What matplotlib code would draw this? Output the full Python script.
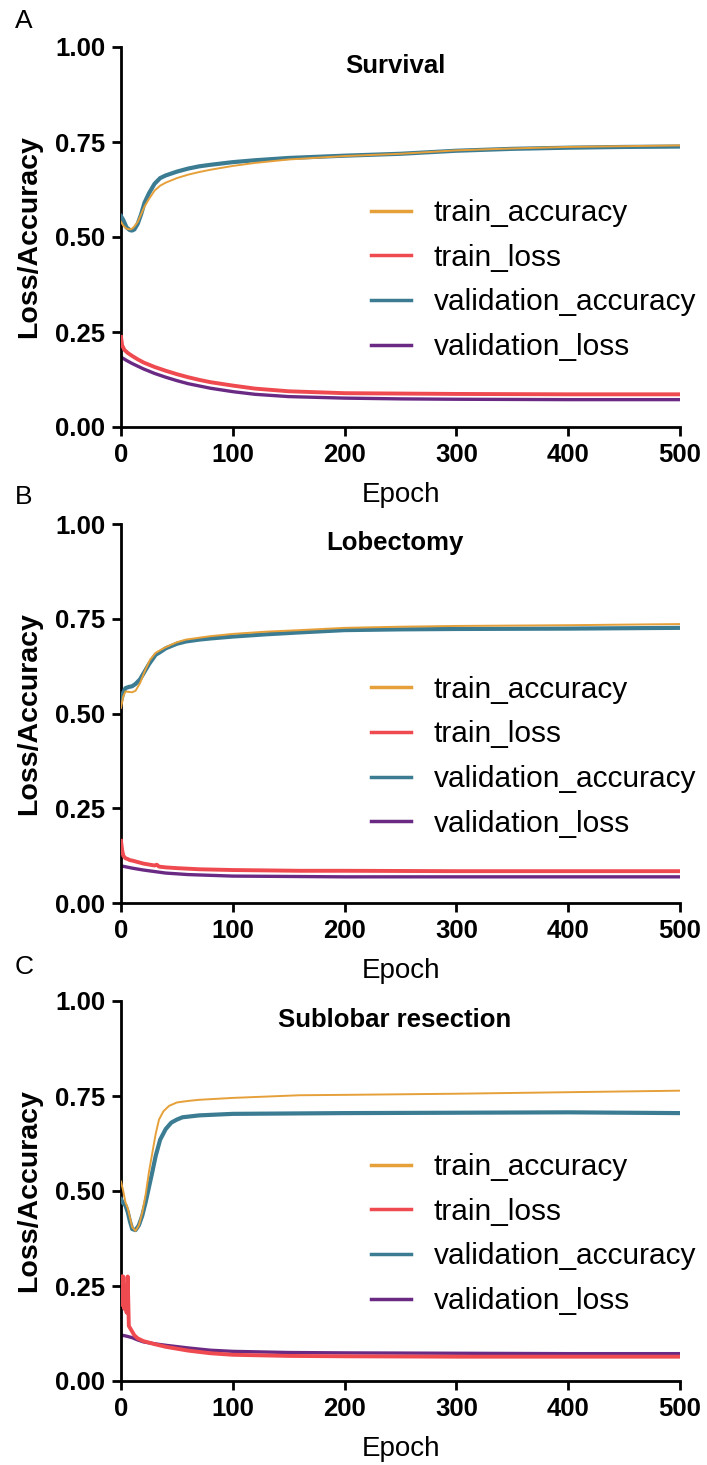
import matplotlib
matplotlib.use("Agg")
import matplotlib.pyplot as plt

plt.rcParams['font.family'] = ['Liberation Sans', 'DejaVu Sans']

# ---------------- Data ----------------
# Panel A: Survival
a_ta_ep = [0, 2, 5, 8, 10, 12, 15, 18, 21, 25, 30, 35, 40, 50, 60, 70, 80, 100, 120, 150, 200, 250, 300, 350, 400, 450, 500]
a_ta = [0.540, 0.530, 0.522, 0.520, 0.522, 0.528, 0.540, 0.560, 0.580, 0.600, 0.622, 0.635, 0.643, 0.655, 0.664, 0.671,
        0.677, 0.687, 0.695, 0.704, 0.713, 0.719, 0.728, 0.733, 0.737, 0.739, 0.741]
a_va_ep = [0, 2, 5, 8, 10, 12, 15, 18, 21, 25, 30, 35, 40, 50, 60, 70, 80, 100, 120, 150, 200, 250, 300, 350, 400, 450, 500]
a_va = [0.555, 0.545, 0.525, 0.518, 0.517, 0.520, 0.535, 0.560, 0.590, 0.615, 0.640, 0.655, 0.662, 0.672, 0.680, 0.686,
        0.690, 0.697, 0.702, 0.708, 0.714, 0.719, 0.727, 0.732, 0.735, 0.737, 0.738]
a_tl_ep = [0, 1, 3, 6, 10, 15, 20, 30, 40, 50, 60, 70, 80, 100, 120, 150, 200, 250, 300, 400, 500]
a_tl = [0.237, 0.215, 0.203, 0.195, 0.187, 0.178, 0.170, 0.158, 0.148, 0.139, 0.131, 0.124, 0.118, 0.109, 0.101, 0.094,
        0.089, 0.088, 0.087, 0.086, 0.086]
a_vl_ep = [0, 5, 10, 15, 20, 30, 40, 50, 60, 70, 80, 100, 120, 150, 200, 250, 300, 400, 500]
a_vl = [0.184, 0.175, 0.167, 0.160, 0.153, 0.141, 0.131, 0.122, 0.114, 0.108, 0.102, 0.093, 0.086, 0.080, 0.076, 0.074,
        0.073, 0.072, 0.072]

# Panel B: Lobectomy
b_ta_ep = [0, 2, 4, 7, 10, 13, 17, 21, 26, 31, 35, 40, 50, 58, 70, 80, 100, 130, 160, 200, 250, 300, 400, 500]
b_ta = [0.515, 0.545, 0.558, 0.557, 0.556, 0.560, 0.580, 0.610, 0.642, 0.660, 0.667, 0.675, 0.688, 0.695, 0.700, 0.704,
        0.710, 0.716, 0.720, 0.726, 0.729, 0.731, 0.733, 0.736]
b_va_ep = [0, 2, 4, 7, 10, 13, 17, 21, 25, 31, 35, 40, 50, 58, 70, 80, 100, 130, 160, 200, 250, 300, 400, 500]
b_va = [0.532, 0.555, 0.567, 0.570, 0.572, 0.578, 0.590, 0.610, 0.630, 0.655, 0.662, 0.672, 0.684, 0.690, 0.695, 0.698,
        0.703, 0.709, 0.714, 0.720, 0.722, 0.723, 0.724, 0.726]
b_tl_ep = [0, 1, 2, 4, 6, 8, 10, 15, 20, 30, 32, 34, 40, 50, 70, 100, 160, 200, 300, 500]
b_tl = [0.164, 0.140, 0.125, 0.118, 0.116, 0.113, 0.112, 0.108, 0.104, 0.099, 0.101, 0.096, 0.094, 0.092, 0.089, 0.087,
        0.085, 0.085, 0.084, 0.084]
b_vl_ep = [0, 5, 10, 20, 30, 40, 60, 80, 100, 150, 200, 300, 500]
b_vl = [0.098, 0.095, 0.092, 0.087, 0.083, 0.079, 0.075, 0.073, 0.071, 0.070, 0.069, 0.069, 0.069]

# Panel C: Sublobar resection
c_ta_ep = [0, 2, 4, 6, 8, 10, 13, 16, 19, 22, 25, 28, 31, 34, 38, 43, 50, 60, 70, 100, 160, 200, 300, 400, 500]
c_ta = [0.525, 0.500, 0.470, 0.455, 0.430, 0.405, 0.395, 0.410, 0.443, 0.490, 0.550, 0.600, 0.650, 0.688, 0.710, 0.724,
        0.733, 0.737, 0.740, 0.745, 0.752, 0.753, 0.756, 0.760, 0.764]
c_va_ep = [0, 2, 4, 6, 8, 10, 13, 16, 19, 22, 25, 28, 31, 35, 40, 45, 50, 55, 70, 100, 200, 300, 400, 500]
c_va = [0.478, 0.468, 0.462, 0.445, 0.420, 0.400, 0.397, 0.410, 0.435, 0.470, 0.510, 0.550, 0.592, 0.635, 0.663, 0.680,
        0.688, 0.694, 0.699, 0.703, 0.705, 0.706, 0.707, 0.705]
c_tl_ep = [0, 1, 2, 3, 4, 5, 6, 7, 9, 12, 15, 20, 30, 40, 60, 80, 100, 150, 200, 300, 400, 500]
c_tl = [0.275, 0.200, 0.275, 0.190, 0.250, 0.180, 0.275, 0.145, 0.135, 0.120, 0.112, 0.105, 0.097, 0.090, 0.080, 0.073,
        0.069, 0.066, 0.065, 0.064, 0.064, 0.064]
c_vl_ep = [0, 5, 10, 15, 20, 30, 40, 60, 80, 100, 150, 200, 300, 400, 500]
c_vl = [0.121, 0.118, 0.114, 0.108, 0.103, 0.098, 0.094, 0.087, 0.081, 0.078, 0.075, 0.074, 0.073, 0.072, 0.072]

titles = ["Survival", "Lobectomy", "Sublobar resection"]
panel_letters = ["A", "B", "C"]
series_labels = ["train_accuracy", "train_loss", "validation_accuracy", "validation_loss"]
x_ticks = [0, 100, 200, 300, 400, 500]
y_ticks = [0.00, 0.25, 0.50, 0.75, 1.00]
y_ticklabels = ["0.00", "0.25", "0.50", "0.75", "1.00"]

panels = [
    (a_ta_ep, a_ta, a_tl_ep, a_tl, a_va_ep, a_va, a_vl_ep, a_vl),
    (b_ta_ep, b_ta, b_tl_ep, b_tl, b_va_ep, b_va, b_vl_ep, b_vl),
    (c_ta_ep, c_ta, c_tl_ep, c_tl, c_va_ep, c_va, c_vl_ep, c_vl),
]

# ---------------- Styles ----------------
colors = ["#E6A03A", "#EF4A50", "#3B7C93", "#6A2A84"]
widths = [1.4, 2.8, 3.0, 2.4]

W, H = 707, 1465
fig = plt.figure(figsize=(W / 100, H / 100), dpi=100)

# axes in pixel coordinates: (left, top(1.00), right, bottom(0.00))
ax_px = [(121, 47, 680, 427), (121, 524, 680, 903), (121, 1001, 680, 1381)]
letter_y = [21, 497, 967]

for i, (ep_ta, ta, ep_tl, tl, ep_va, va, ep_vl, vl) in enumerate(panels):
    l, t, r, b = ax_px[i]
    ax = fig.add_axes([l / W, 1 - b / H, (r - l) / W, (b - t) / H])
    ax.plot(ep_ta, ta, color=colors[0], lw=widths[0], label=series_labels[0], zorder=4)
    ax.plot(ep_tl, tl, color=colors[1], lw=widths[1], label=series_labels[1], zorder=3)
    ax.plot(ep_va, va, color=colors[2], lw=widths[2], label=series_labels[2], zorder=3)
    ax.plot(ep_vl, vl, color=colors[3], lw=widths[3], label=series_labels[3], zorder=2)

    ax.set_xlim(0, 500)
    ax.set_ylim(0, 1.0)
    ax.set_xticks(x_ticks)
    ax.set_yticks(y_ticks)
    ax.set_yticklabels(y_ticklabels)
    for s in ["top", "right"]:
        ax.spines[s].set_visible(False)
    for s in ["left", "bottom"]:
        ax.spines[s].set_linewidth(2.0)
    ax.tick_params(axis="both", direction="out", length=6.5, width=2.0, labelsize=18.5, pad=5)
    for lab in ax.get_xticklabels() + ax.get_yticklabels():
        lab.set_fontweight("bold")
    ax.set_ylabel("Loss/Accuracy", fontsize=20.5, fontweight="bold", labelpad=9)
    ax.set_xlabel("Epoch", fontsize=20, labelpad=11)
    ax.text(0.49, 0.95, titles[i], transform=ax.transAxes, ha="center", va="center",
            fontsize=18.5, fontweight="bold")

    leg = ax.legend(loc="upper left", bbox_to_anchor=(0.447, 0.60), frameon=False,
                    fontsize=21.5, handlelength=1.34, handletextpad=0.77, labelspacing=0.56,
                    borderpad=0, borderaxespad=0)
    for line in leg.get_lines():
        line.set_linewidth(2.5)

    fig.text(15 / W, 1 - letter_y[i] / H, panel_letters[i], fontsize=19, ha="left", va="center")

fig.savefig("out.png", dpi=100)
